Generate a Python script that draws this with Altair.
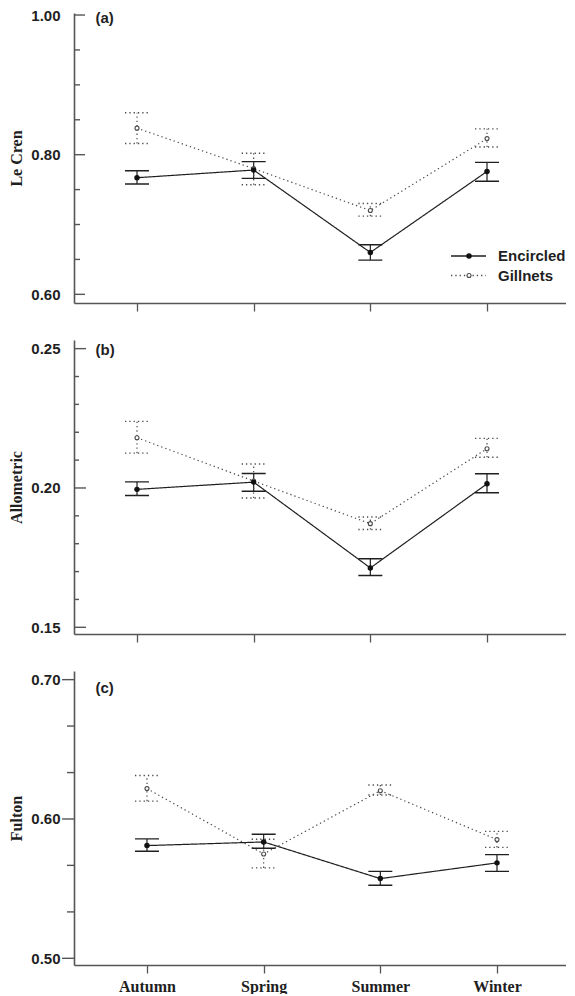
import altair as alt
import pandas as pd

seasons = ["Autumn", "Spring", "Summer", "Winter"]
gears = ["Encircled", "Gillnets"]

# (a) Le Cren
lecren_enc_mean = [0.767, 0.778, 0.660, 0.776]
lecren_enc_lo = [0.758, 0.766, 0.649, 0.762]
lecren_enc_hi = [0.777, 0.790, 0.671, 0.789]
lecren_gil_mean = [0.838, 0.780, 0.720, 0.823]
lecren_gil_lo = [0.816, 0.757, 0.712, 0.811]
lecren_gil_hi = [0.860, 0.802, 0.730, 0.837]
lecren_major = [0.60, 0.80, 1.00]
lecren_minor = [0.65, 0.70, 0.75, 0.85, 0.90, 0.95]

# (b) Allometric
allo_enc_mean = [0.1995, 0.2021, 0.1713, 0.2015]
allo_enc_lo = [0.1973, 0.1988, 0.1686, 0.1983]
allo_enc_hi = [0.2022, 0.2052, 0.1746, 0.2051]
allo_gil_mean = [0.2180, 0.2025, 0.1872, 0.2141]
allo_gil_lo = [0.2125, 0.1964, 0.1851, 0.2110]
allo_gil_hi = [0.2239, 0.2086, 0.1896, 0.2178]
allo_major = [0.15, 0.20, 0.25]
allo_minor = [0.16, 0.17, 0.18, 0.19, 0.21, 0.22, 0.23, 0.24]

# (c) Fulton
fulton_enc_mean = [0.5809, 0.5835, 0.5572, 0.5685]
fulton_enc_lo = [0.5768, 0.5790, 0.5524, 0.5624]
fulton_enc_hi = [0.5857, 0.5890, 0.5624, 0.5744]
fulton_gil_mean = [0.6218, 0.5749, 0.6203, 0.5852]
fulton_gil_lo = [0.6128, 0.5649, 0.6172, 0.5796]
fulton_gil_hi = [0.6312, 0.5854, 0.6244, 0.5911]
fulton_major = [0.50, 0.60, 0.70]
fulton_minor = [0.5333, 0.5667, 0.6333, 0.6667]

AX = "#555555"
INK = "#1f1f1f"
GIL = "#4a4a4a"
SANS = "Liberation Sans"
SERIF = "Liberation Serif"
W = 492


def make_panel(title, tag, enc, gil, majors, minors, domain, height, xalign,
               inward, major_len, minor_len, tag_y, show_x_labels, legend):
    rows = []
    for g, (m, lo, hi) in zip(gears, (enc, gil)):
        for s, a, b, c in zip(seasons, m, lo, hi):
            rows.append({"season": s, "gear": g, "mean": a, "lo": b, "hi": c})
    df = pd.DataFrame(rows)

    yscale = alt.Scale(domain=domain, nice=False, zero=False)
    xscale = alt.Scale(type="point", domain=seasons, padding=0.6086, align=xalign)
    xaxis = alt.Axis(labels=show_x_labels, ticks=True, tickSize=8, tickWidth=1.3,
                     tickColor=AX, domainColor=AX, domainWidth=1.6, grid=False,
                     labelAngle=0, labelFont=SERIF, labelFontWeight="bold",
                     labelFontSize=16, labelColor=INK, labelPadding=5, title=None)
    yaxis = alt.Axis(values=majors, format=".2f", ticks=False, tickSize=0,
                     labelPadding=14, labelFont=SANS, labelFontWeight="bold",
                     labelFontSize=15, labelColor=INK, domainColor=AX,
                     domainWidth=1.6, grid=False, title=title, titleFont=SERIF,
                     titleFontWeight="bold", titleFontSize=16, titleColor=INK,
                     titleX=-53, titleBaseline="alphabetic")

    X = alt.X("season:N", scale=xscale, axis=xaxis, sort=seasons)
    color = alt.Color("gear:N", scale=alt.Scale(domain=gears, range=[INK, GIL]), legend=None)
    dash = alt.StrokeDash("gear:N", scale=alt.Scale(domain=gears, range=[[1, 0], [1.3, 3]]), legend=None)

    base = alt.Chart(df).encode(x=X, color=color, strokeDash=dash)
    lines = base.mark_line(strokeWidth=1.2).encode(y=alt.Y("mean:Q", scale=yscale, axis=yaxis))
    vbars = base.mark_rule(strokeWidth=1.2).encode(
        y=alt.Y("lo:Q", scale=yscale, axis=yaxis), y2="hi:Q")
    cap_lo = base.mark_rule(strokeWidth=1.4, xOffset=-12, x2Offset=12).encode(
        y=alt.Y("lo:Q", scale=yscale, axis=yaxis), x2=alt.X2("season:N"))
    cap_hi = base.mark_rule(strokeWidth=1.4, xOffset=-12, x2Offset=12).encode(
        y=alt.Y("hi:Q", scale=yscale, axis=yaxis), x2=alt.X2("season:N"))

    pts_enc = alt.Chart(df).transform_filter(alt.datum.gear == gears[0]).mark_circle(
        size=30, color="#111111", opacity=1).encode(
        x=X, y=alt.Y("mean:Q", scale=yscale, axis=yaxis))
    pts_gil = alt.Chart(df).transform_filter(alt.datum.gear == gears[1]).mark_point(
        shape="circle", size=16, filled=False, fill="white", stroke=GIL,
        strokeWidth=1.1, opacity=1).encode(
        x=X, y=alt.Y("mean:Q", scale=yscale, axis=yaxis))

    if inward:
        x0_major, x1_major, x0_minor, x1_minor = 0, major_len, 0, minor_len
    else:
        x0_major, x1_major, x0_minor, x1_minor = -major_len, 0, -minor_len, 0
    tk_major = alt.Chart(pd.DataFrame({"v": majors})).mark_rule(color=AX, strokeWidth=1.4).encode(
        y=alt.Y("v:Q", scale=yscale, axis=yaxis), x=alt.value(x0_major), x2=alt.value(x1_major))
    tk_minor = alt.Chart(pd.DataFrame({"v": minors})).mark_rule(color=AX, strokeWidth=1.4).encode(
        y=alt.Y("v:Q", scale=yscale, axis=yaxis), x=alt.value(x0_minor), x2=alt.value(x1_minor))

    tag_layer = alt.Chart(pd.DataFrame({"t": [tag]})).mark_text(
        align="left", baseline="middle", font=SANS, fontWeight="bold", fontSize=15,
        color=INK).encode(text="t:N", x=alt.value(21.5), y=alt.value(tag_y))

    layers = [tk_minor, tk_major, vbars, cap_lo, cap_hi, lines, pts_gil, pts_enc, tag_layer]

    if legend:
        ldf = pd.DataFrame({"gear": gears})
        ys = [243, 262.5]
        for g, yv, dsh, col in zip(gears, ys, [[1, 0], [1.3, 3]], [INK, GIL]):
            src = alt.Chart(ldf).transform_filter(alt.datum.gear == g)
            layers.append(src.mark_rule(color=col, strokeWidth=1.3, strokeDash=dsh).encode(
                x=alt.value(377), x2=alt.value(412), y=alt.value(yv)))
            if g == gears[0]:
                layers.append(src.mark_circle(size=30, color="#111111", opacity=1).encode(
                    x=alt.value(395), y=alt.value(yv)))
            else:
                layers.append(src.mark_point(shape="circle", size=16, filled=False, fill="white",
                                             stroke=GIL, strokeWidth=1.1, opacity=1).encode(
                    x=alt.value(395), y=alt.value(yv)))
            layers.append(src.mark_text(align="left", baseline="middle", font=SANS,
                                        fontWeight="bold", fontSize=15, color=INK).encode(
                text="gear:N", x=alt.value(424), y=alt.value(yv)))

    return alt.layer(*layers).properties(width=W, height=height)


pa = make_panel("Le Cren", "(a)",
                (lecren_enc_mean, lecren_enc_lo, lecren_enc_hi),
                (lecren_gil_mean, lecren_gil_lo, lecren_gil_hi),
                lecren_major, lecren_minor, [0.5876, 1.0029], 290, 0.4437,
                True, 11, 6, 4.5, False, True)
pb = make_panel("Allometric", "(b)",
                (allo_enc_mean, allo_enc_lo, allo_enc_hi),
                (allo_gil_mean, allo_gil_lo, allo_gil_hi),
                allo_major, allo_minor, [0.1476, 0.2531], 294, 0.4437,
                True, 12, 5, 9.5, False, False)
pc = make_panel("Fulton", "(c)",
                (fulton_enc_mean, fulton_enc_lo, fulton_enc_hi),
                (fulton_gil_mean, fulton_gil_lo, fulton_gil_hi),
                fulton_major, fulton_minor, [0.4952, 0.7062], 294, 0.514,
                False, 12, 7, 16.5, True, False)

chart = alt.vconcat(pa, pb, pc, spacing=28).properties(
    padding={"left": 0, "top": 0, "right": 0, "bottom": 0},
    background="white",
).configure_view(stroke=None)

chart.save("out.html", embed_options={"renderer": "svg", "actions": False})
